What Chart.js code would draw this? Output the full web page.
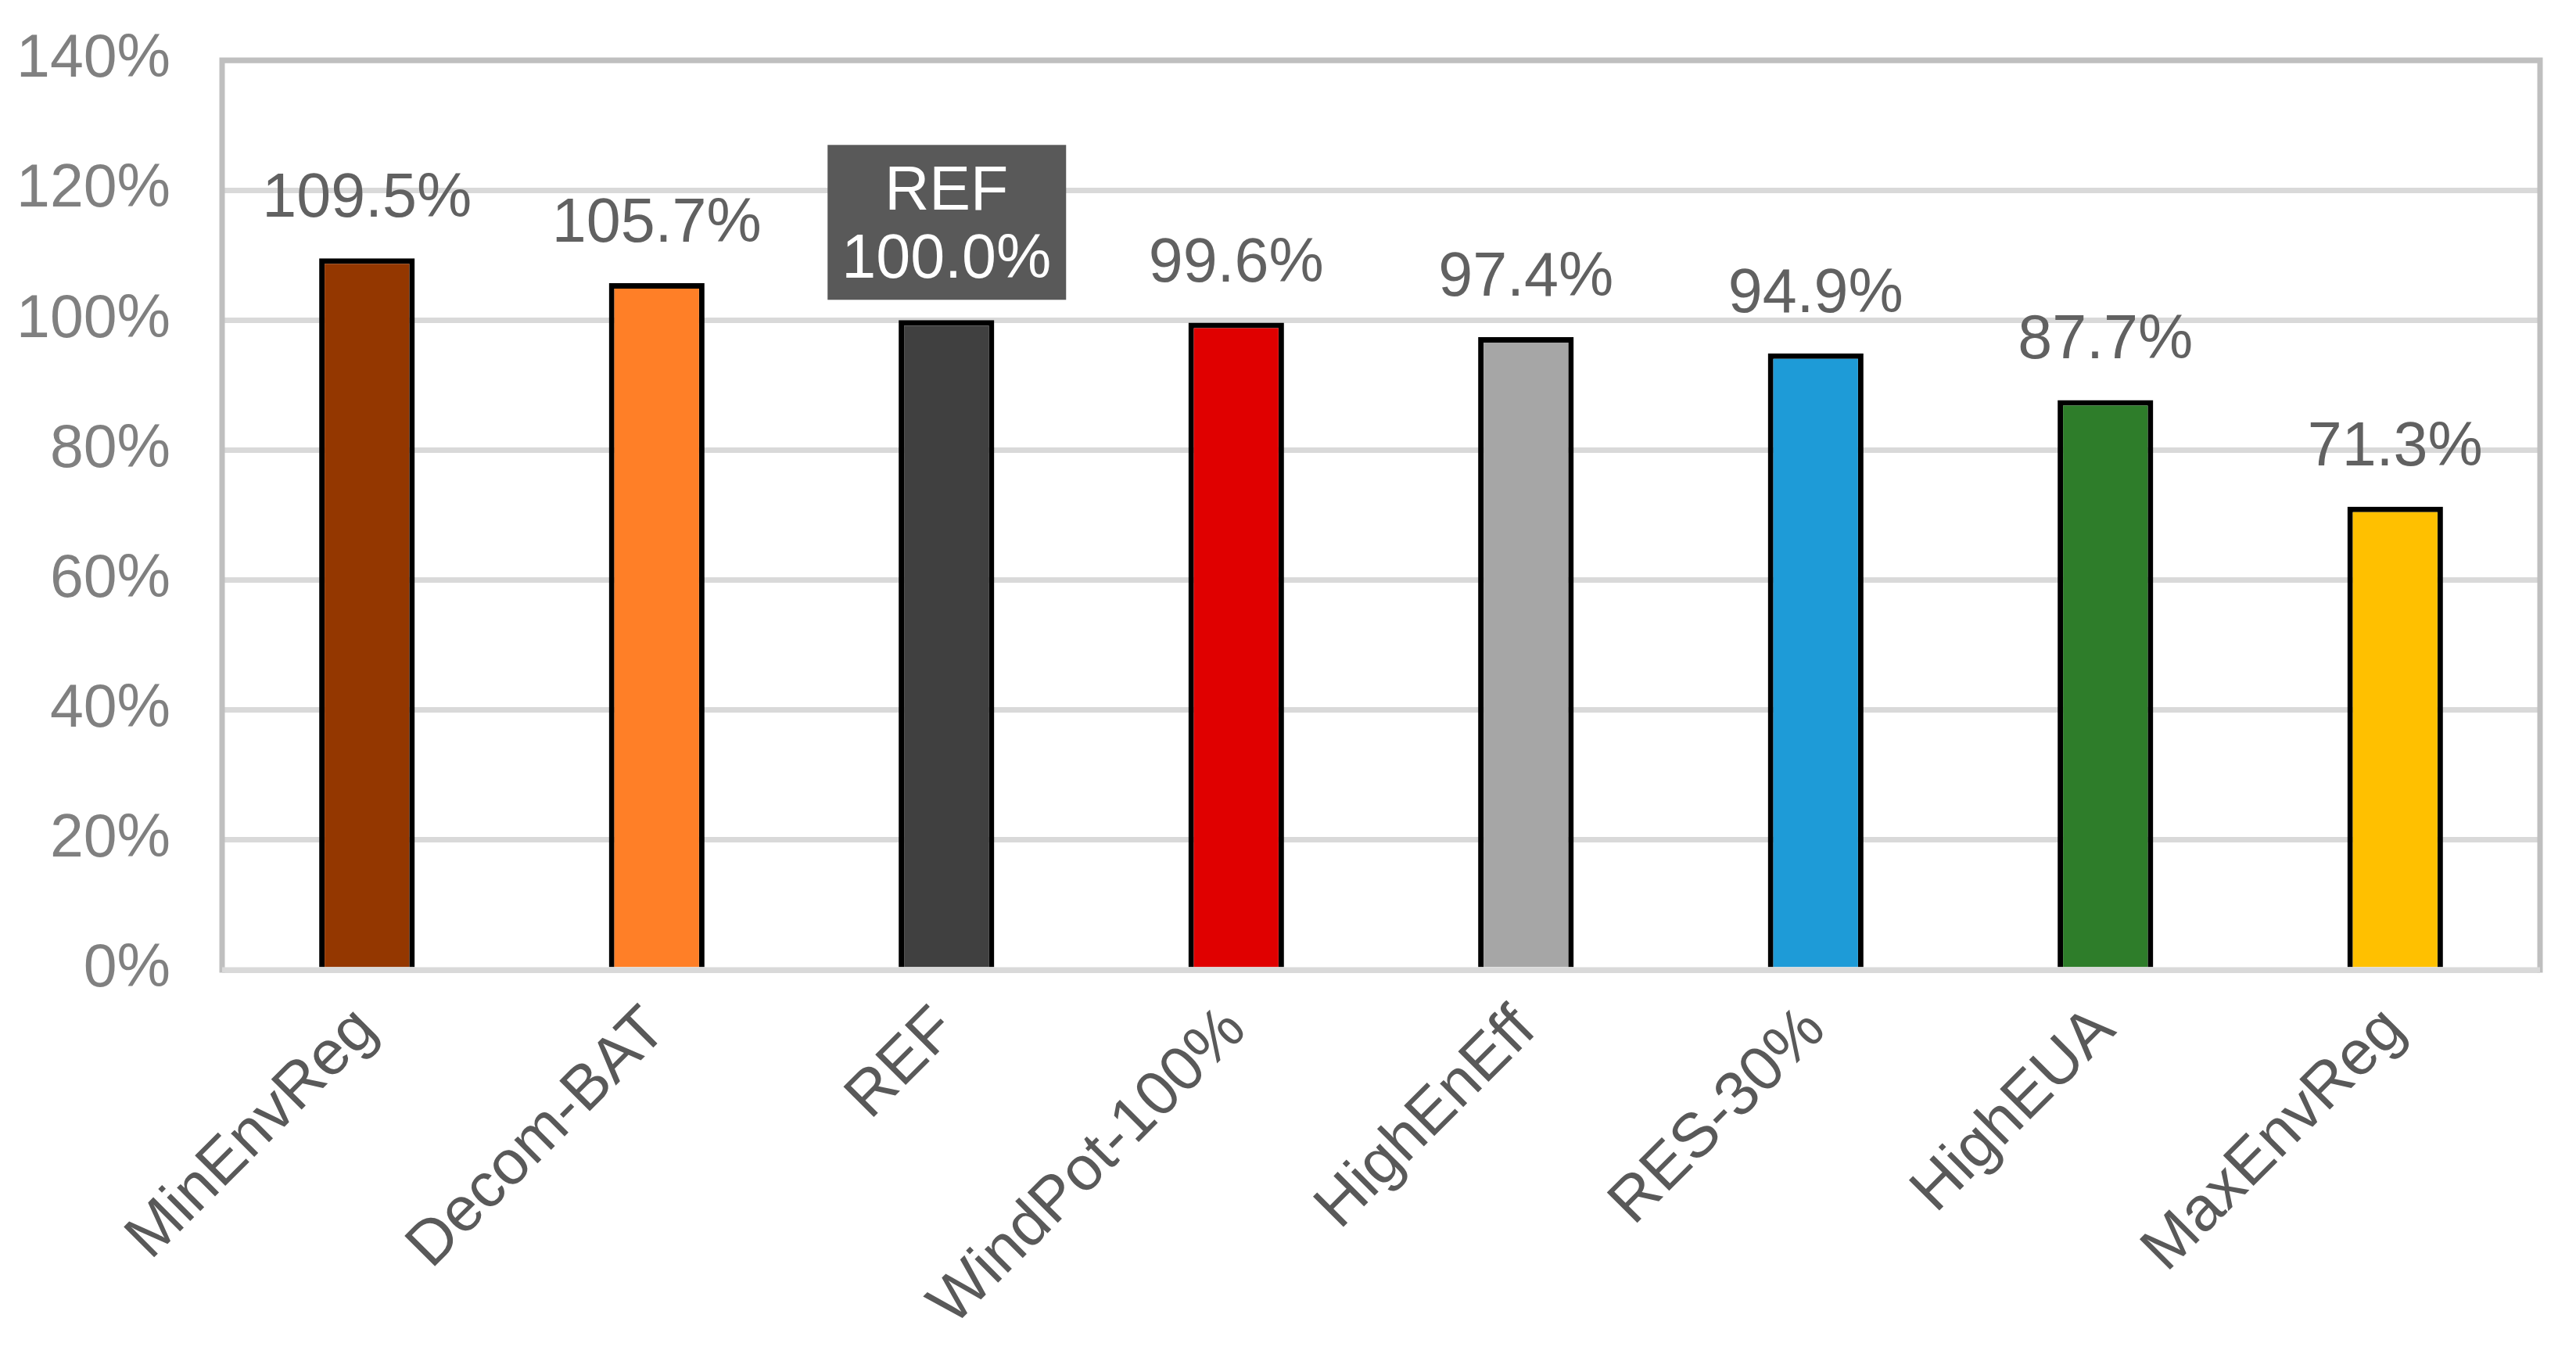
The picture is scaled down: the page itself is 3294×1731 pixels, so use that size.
<!DOCTYPE html>
<html>
<head>
<meta charset="utf-8">
<script src="https://cdn.jsdelivr.net/npm/chart.js@4/dist/chart.umd.min.js"></script>
<style>
  html, body { margin: 0; padding: 0; background: #ffffff; }
  #wrap { width: 3294px; height: 1731px; }
</style>
</head>
<body>
<div id="wrap"><canvas id="c" width="3294" height="1731"></canvas></div>
<script>
const categories = ['MinEnvReg', 'Decom-BAT', 'REF', 'WindPot-100%', 'HighEnEff', 'RES-30%', 'HighEUA', 'MaxEnvReg'];
const values = [109.5, 105.7, 100.0, 99.6, 97.4, 94.9, 87.7, 71.3];
const barColors = ['#943700', '#FF7F27', '#404040', '#E00000', '#A6A6A6', '#1E9BD7', '#2E7D2A', '#FFC000'];
const yTicks = [0, 20, 40, 60, 80, 100, 120, 140];
const highlighted = ['REF'];

const FONT = '"Liberation Sans", Arial, "Helvetica", sans-serif';

const framePlugin = {
  id: 'frame',
  beforeDatasetsDraw(chart) {
    const { ctx, chartArea: a } = chart;
    ctx.save();
    ctx.strokeStyle = '#BFBFBF';
    ctx.lineWidth = 7;
    ctx.lineCap = 'square';
    ctx.beginPath();
    ctx.moveTo(a.left, a.bottom);
    ctx.lineTo(a.left, a.top);
    ctx.lineTo(a.right, a.top);
    ctx.lineTo(a.right, a.bottom);
    ctx.stroke();
    ctx.restore();
  },
  afterDatasetsDraw(chart) {
    const { ctx, chartArea: a } = chart;
    ctx.save();
    ctx.strokeStyle = '#D9D9D9';
    ctx.lineWidth = 7;
    ctx.beginPath();
    ctx.moveTo(a.left, a.bottom);
    ctx.lineTo(a.right, a.bottom);
    ctx.stroke();
    ctx.restore();
  }
};

const labelPlugin = {
  id: 'valueLabels',
  afterDatasetsDraw(chart) {
    const { ctx } = chart;
    const meta = chart.getDatasetMeta(0);
    ctx.save();
    ctx.textAlign = 'center';
    ctx.textBaseline = 'alphabetic';
    meta.data.forEach((bar, i) => {
      const txt = values[i].toFixed(1) + '%';
      const x = bar.x, y = bar.y;
      if (highlighted.includes(categories[i])) {
        ctx.fillStyle = '#595959';
        ctx.fillRect(x - 152, y - 224, 305, 198);
        ctx.fillStyle = '#FFFFFF';
        ctx.font = '79px ' + FONT;
        ctx.fillText(categories[i], x, y - 141);
        ctx.fillText(txt, x, y - 54);
      } else {
        ctx.fillStyle = '#616161';
        ctx.font = '79px ' + FONT;
        ctx.fillText(txt, x, y - 53);
      }
    });
    ctx.restore();
  }
};

new Chart(document.getElementById('c'), {
  type: 'bar',
  data: {
    labels: categories,
    datasets: [{
      data: values,
      backgroundColor: barColors,
      borderColor: '#000000',
      borderWidth: 7,
      barPercentage: 0.33,
      categoryPercentage: 1.0
    }]
  },
  options: {
    responsive: false,
    animation: false,
    devicePixelRatio: 1,
    layout: { padding: { top: 77, right: 46, left: 0, bottom: 0 } },
    plugins: {
      legend: { display: false },
      tooltip: { enabled: false }
    },
    scales: {
      x: {
        grid: { display: false, drawTicks: false },
        border: { display: false },
        ticks: {
          autoSkip: false,
          maxRotation: 45,
          minRotation: 45,
          padding: 30,
          color: '#595959',
          font: { family: FONT, size: 80 }
        },
        afterFit(scale) {
          scale.height = 491;
          scale.paddingLeft = 0;
          scale.paddingRight = 0;
        }
      },
      y: {
        min: 0,
        max: 140,
        afterBuildTicks(scale) { scale.ticks = yTicks.map(v => ({ value: v })); },
        grid: { color: '#D9D9D9', lineWidth: 7, drawTicks: false },
        border: { display: false },
        ticks: {
          padding: 66,
          color: '#808080',
          font: { family: FONT, size: 77 },
          callback: (v) => v + '%'
        },
        afterFit(scale) {
          scale.width = 284;
          scale.paddingTop = 0;
          scale.paddingBottom = 0;
        }
      }
    }
  },
  plugins: [framePlugin, labelPlugin]
});
</script>
</body>
</html>
